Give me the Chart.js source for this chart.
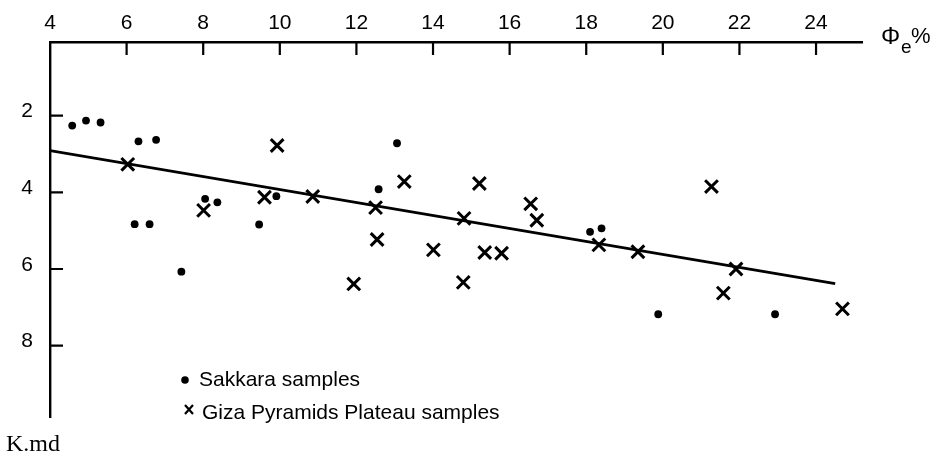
<!DOCTYPE html>
<html>
<head>
<meta charset="utf-8">
<script src="https://cdn.jsdelivr.net/npm/chart.js@4.4.1/dist/chart.umd.min.js"></script>
<style>
  html, body { margin: 0; padding: 0; background: #fff; }
  #wrap { width: 931px; height: 452px; }
</style>
</head>
<body>
<div id="wrap"><canvas id="chart" width="931" height="452"></canvas></div>
<script>
// Sakkara samples (dots): effective porosity % vs K.md
const sakkaraPhi = [4.58, 4.94, 5.32, 6.31, 6.77, 6.21, 6.60, 7.43, 8.05, 8.37, 9.46, 9.91, 12.58, 13.06, 18.10, 18.40, 19.88, 22.93];
const sakkaraK   = [2.26, 2.13, 2.18, 2.67, 2.63, 4.83, 4.83, 6.07, 4.17, 4.26, 4.84, 4.10, 3.92, 2.72, 5.03, 4.94, 7.18, 7.18];

// Giza Pyramids Plateau samples (crosses)
const gizaPhi = [6.03, 8.01, 9.60, 9.93, 10.86, 12.50, 13.25, 15.21, 14.81, 12.54, 14.01, 15.35, 15.79, 11.93, 14.79, 16.55, 16.71, 18.33, 19.35, 21.27, 21.91, 21.58, 24.69];
const gizaK   = [3.27, 4.47, 4.13, 2.78, 4.11, 4.40, 3.72, 3.77, 4.68, 5.23, 5.50, 5.57, 5.59, 6.39, 6.35, 4.30, 4.73, 5.37, 5.55, 3.85, 6.00, 6.63, 7.04];

// fitted line
const fitPhi = [4, 24.5];
const fitK   = [2.91, 6.38];

const xTicks = [4, 6, 8, 10, 12, 14, 16, 18, 20, 22, 24];
const yTicks = [2, 4, 6, 8];

const SANS = '"Liberation Sans", Arial, sans-serif';
const SERIF = '"Liberation Serif", "Times New Roman", serif';

function toPoints(xs, ys) {
    return xs.map((x, i) => ({ x: x, y: ys[i] }));
}

// Inward tick marks, axis titles and the in-plot legend
const axisDecor = {
    id: 'axisDecor',
    afterDraw(chart) {
        const { ctx, chartArea: a, scales: { x, y } } = chart;
        ctx.save();
        ctx.strokeStyle = '#000';
        ctx.lineWidth = 2.2;
        ctx.beginPath();
        xTicks.forEach(v => {
            if (v === x.min) return;
            const px = x.getPixelForValue(v);
            ctx.moveTo(px, a.top);
            ctx.lineTo(px, a.top + 13);
        });
        yTicks.forEach(v => {
            const py = y.getPixelForValue(v);
            ctx.moveTo(a.left, py);
            ctx.lineTo(a.left + 13, py);
        });
        ctx.stroke();

        // axis titles
        ctx.fillStyle = '#000';
        ctx.textBaseline = 'alphabetic';
        ctx.textAlign = 'left';
        ctx.font = '24px ' + SANS;
        ctx.fillText('Φ', a.right + 19, 44);
        ctx.font = '19px ' + SANS;
        ctx.fillText('e', a.right + 39, 53);
        ctx.font = '22px ' + SANS;
        ctx.fillText('%', a.right + 49, 43);
        ctx.font = '24px ' + SERIF;
        ctx.fillText('K.md', 6, 451);

        // legend
        const ds = chart.data.datasets;
        const lx = a.left + 135;
        ctx.beginPath();
        ctx.arc(lx, 380, 3.8, 0, Math.PI * 2);
        ctx.fill();
        ctx.font = '21px ' + SANS;
        ctx.fillText(ds[0].label, lx + 14, 386);

        ctx.lineWidth = 2.2;
        ctx.beginPath();
        ctx.moveTo(lx, 405); ctx.lineTo(lx + 8, 414);
        ctx.moveTo(lx + 8, 405); ctx.lineTo(lx, 414);
        ctx.stroke();
        ctx.fillText(ds[1].label, lx + 17, 419);
        ctx.restore();
    }
};

const ctx = document.getElementById('chart').getContext('2d');
new Chart(ctx, {
    type: 'scatter',
    data: {
        datasets: [
            {
                label: 'Sakkara samples',
                data: toPoints(sakkaraPhi, sakkaraK),
                pointStyle: 'circle',
                pointRadius: 3.9,
                backgroundColor: '#000',
                borderColor: '#000',
                borderWidth: 0
            },
            {
                label: 'Giza Pyramids Plateau samples',
                data: toPoints(gizaPhi, gizaK),
                pointStyle: 'crossRot',
                pointRadius: 9,
                borderColor: '#000',
                borderWidth: 3
            },
            {
                label: 'fit',
                data: toPoints(fitPhi, fitK),
                showLine: true,
                pointRadius: 0,
                borderColor: '#000',
                borderWidth: 2.8,
                fill: false
            }
        ]
    },
    options: {
        responsive: false,
        animation: false,
        layout: { padding: { left: 0, top: 0, right: 69, bottom: 35 } },
        plugins: {
            legend: { display: false },
            tooltip: { enabled: false }
        },
        scales: {
            x: {
                type: 'linear',
                position: 'top',
                min: 4,
                max: 25.2,
                afterBuildTicks: s => { s.ticks = xTicks.map(v => ({ value: v })); },
                afterFit: s => { s.height = 42; },
                grid: { display: false, drawTicks: false },
                border: { display: true, color: '#000', width: 2.4 },
                ticks: {
                    color: '#000',
                    font: { family: SANS, size: 21 },
                    padding: 6,
                    maxRotation: 0,
                    autoSkip: false
                }
            },
            y: {
                type: 'linear',
                reverse: true,
                min: 0.08,
                max: 9.86,
                afterBuildTicks: s => { s.ticks = yTicks.map(v => ({ value: v })); },
                afterFit: s => { s.width = 50; },
                grid: { display: false, drawTicks: false },
                border: { display: true, color: '#000', width: 2.4 },
                ticks: {
                    color: '#000',
                    font: { family: SANS, size: 21 },
                    padding: 17,
                    labelOffset: -4
                }
            }
        }
    },
    plugins: [axisDecor]
});
</script>
</body>
</html>
